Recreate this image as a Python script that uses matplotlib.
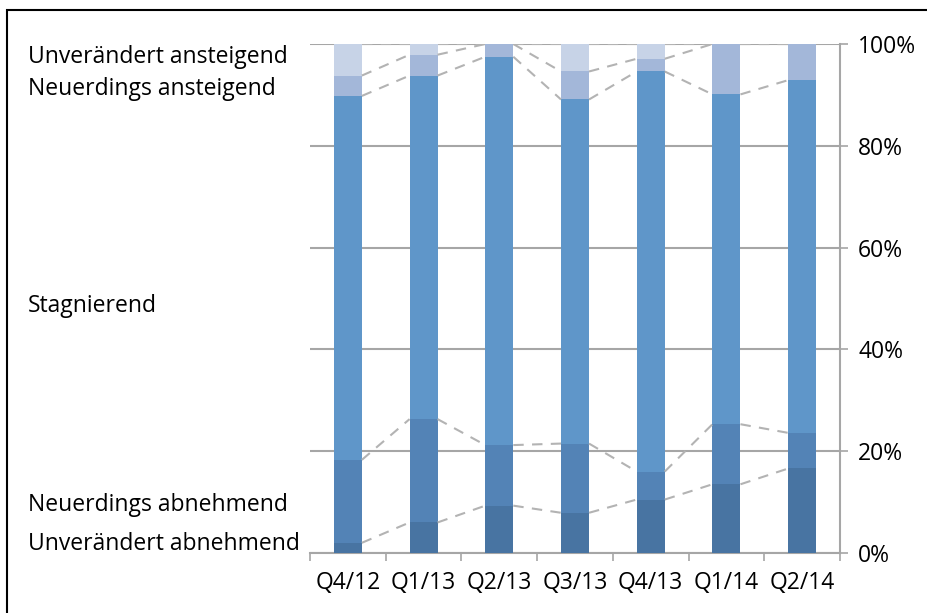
import numpy as np
import matplotlib
matplotlib.use("Agg")
import matplotlib.pyplot as plt
from matplotlib.patches import Rectangle

quarters = ["Q4/12", "Q1/13", "Q2/13", "Q3/13", "Q4/13", "Q1/14", "Q2/14"]
unv_abnehmend = [2.0, 6.0, 9.3, 7.9, 10.5, 13.5, 16.6]
neu_abnehmend = [16.3, 20.3, 11.9, 13.6, 5.5, 11.8, 7.0]
stagnierend = [71.5, 67.5, 76.3, 67.6, 78.6, 64.8, 69.3]
neu_ansteigend = [4.0, 4.1, 2.5, 5.5, 2.5, 9.9, 7.1]
unv_ansteigend = [6.2, 2.1, 0.0, 5.4, 2.9, 0.0, 0.0]

series = [unv_abnehmend, neu_abnehmend, stagnierend, neu_ansteigend, unv_ansteigend]
colors = ["#4874A2", "#5383B6", "#5F96C9", "#A3B7D9", "#C7D3E7"]
labels = ["Unverändert abnehmend", "Neuerdings abnehmend", "Stagnierend",
          "Neuerdings ansteigend", "Unverändert ansteigend"]

plt.rcParams["font.family"] = ["Open Sans", "DejaVu Sans"]
fs = 16.5

fig = plt.figure(figsize=(9.27, 6.13), dpi=100)
ax = fig.add_axes([0.3344, 0.0979, 0.5718, 0.8303])

x = np.arange(len(quarters))
width = 0.37
bottom = np.zeros(len(quarters))
tops = []
for vals, col in zip(series, colors):
    vals = np.array(vals)
    ax.bar(x, vals, width, bottom=bottom, color=col, edgecolor="none", zorder=3)
    bottom = bottom + vals
    tops.append(bottom.copy())

# series lines between neighbouring bars
for top in tops:
    for i in range(len(quarters) - 1):
        ax.plot([x[i] + width / 2, x[i + 1] - width / 2], [top[i], top[i + 1]],
                color="#B3B3B3", lw=1.5, ls=(0, (5, 4)), zorder=4)

ax.set_xlim(-0.5, len(quarters) - 0.5)
ax.set_ylim(0, 100)
ax.set_yticks([0, 20, 40, 60, 80, 100])
ax.set_yticklabels([f"{v}%" for v in range(0, 101, 20)])
ax.yaxis.tick_right()
ax.grid(axis="y", color="#A6A6A6", lw=1.5, zorder=1)
ax.set_xticks(x)
ax.set_xticklabels(quarters)
ax.set_xticks(np.arange(-0.5, len(quarters)), minor=True)
ax.tick_params(axis="x", which="major", length=0, labelsize=fs, pad=13)
ax.tick_params(axis="x", which="minor", length=6, color="#A6A6A6", width=1.2)
ax.tick_params(axis="y", length=6, color="#A6A6A6", width=1.2, labelsize=fs, pad=7)

for s in ["top", "left"]:
    ax.spines[s].set_visible(False)
for s in ["bottom", "right"]:
    ax.spines[s].set_color("#A6A6A6")
    ax.spines[s].set_linewidth(1.5)

label_y = [0.1126, 0.176, 0.501, 0.855, 0.907]
for lab, yy in zip(labels, label_y):
    fig.text(0.030, yy, lab, fontsize=fs, va="center", ha="left")

fig.patches.append(Rectangle((7 / 927, -0.1), 1.2, 1 - 10 / 613 + 0.1,
                             transform=fig.transFigure, fill=False,
                             edgecolor="black", lw=1.5))

fig.savefig("out.png", dpi=100)
